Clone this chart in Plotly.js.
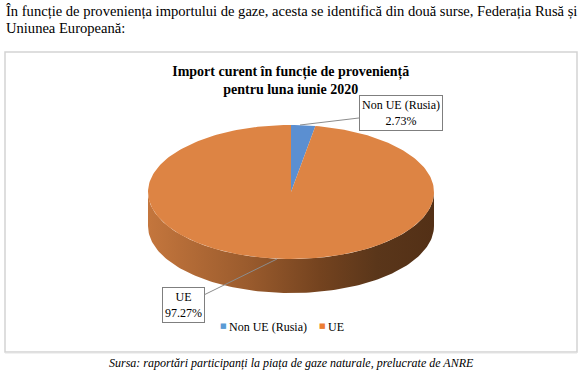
<!DOCTYPE html>
<html>
<head>
<meta charset="utf-8">
<script src="https://cdn.plot.ly/plotly-3.0.1.min.js"></script>
<style>html,body{margin:0;padding:0;background:#fff;}#chart{width:585px;height:373px;}</style>
</head>
<body>
<div id="chart"></div>
<script>
// ---- data ----
const categories = ['Non UE (Rusia)', 'UE'];
const values = [2.73, 97.27];
const chartTitleLines = ['Import curent în funcție de proveniență', 'pentru luna iunie 2020'];
const introLines = ['În funcție de proveniența importului de gaze, acesta se identifică din două surse, Federația Rusă și', 'Uniunea Europeană:'];
const sourceText = 'Sursa: raportări participanți la piața de gaze naturale, prelucrate de ANRE';

// ---- style ----
const topColors = ['#5B8FD1', '#DD8444'];
const legendColors = ['#5B9BD5', '#ED7D31'];
const serif = 'Liberation Serif';
const cx = 291, cy = 192, ra = 143, rb = 67, depth = 34;

function pt(deg, dy) {
  const t = deg * Math.PI / 180;
  return [cx + ra * Math.sin(t), cy - rb * Math.cos(t) + (dy || 0)];
}

const total = values.reduce((s, v) => s + v, 0);
const traces = [];
const slices = [];
let acc = 0;
values.forEach((v, i) => {
  const a0 = acc / total * 360, a1 = (acc + v) / total * 360;
  acc += v;
  slices.push([a0, a1]);
});

// side (front visible part)
slices.forEach((s, i) => {
  const lo = Math.max(s[0], 90), hi = Math.min(s[1], 270);
  if (hi <= lo) return;
  const xs = [], ys = [];
  const n = 120;
  for (let k = 0; k <= n; k++) { const p = pt(lo + (hi - lo) * k / n); xs.push(p[0]); ys.push(p[1]); }
  for (let k = n; k >= 0; k--) { const p = pt(lo + (hi - lo) * k / n, depth); xs.push(p[0]); ys.push(p[1]); }
  traces.push({
    type: 'scatter', mode: 'lines', x: xs, y: ys, fill: 'toself',
    line: {width: 0, color: 'rgba(0,0,0,0)'},
    fillcolor: '#7a4624',
    fillgradient: {type: 'horizontal', start: cx - ra, stop: cx + ra,
      colorscale: [[0, '#c4763d'], [0.35, '#9a5b2d'], [0.6, '#74431f'], [0.8, '#5a361a'], [1, '#533016']]},
    hoverinfo: 'skip', showlegend: false
  });
});

// top faces
slices.forEach((s, i) => {
  const xs = [cx], ys = [cy];
  const n = Math.max(4, Math.ceil((s[1] - s[0]) / 1.5));
  for (let k = 0; k <= n; k++) { const p = pt(s[0] + (s[1] - s[0]) * k / n); xs.push(p[0]); ys.push(p[1]); }
  xs.push(cx); ys.push(cy);
  traces.push({
    type: 'scatter', mode: 'lines', x: xs, y: ys, fill: 'toself',
    line: {width: 0, color: 'rgba(0,0,0,0)'}, fillcolor: topColors[i],
    hoverinfo: 'skip', showlegend: false, name: categories[i]
  });
});

// labels
const labelPos = [[401, 113, 300, 125], [183.5, 305, 277, 259]];
const annotations = slices.map((s, i) => ({
  xref: 'x', yref: 'y', x: labelPos[i][2], y: labelPos[i][3],
  axref: 'x', ayref: 'y', ax: labelPos[i][0], ay: labelPos[i][1],
  text: categories[i] + '<br>' + values[i].toFixed(2) + '%',
  showarrow: true, arrowhead: 0, arrowwidth: 1, arrowcolor: '#8c8c8c',
  bgcolor: '#ffffff', bordercolor: '#7f7f7f', borderwidth: 1, borderpad: 2,
  font: {family: serif, size: 12, color: '#000'}, align: 'center'
}));

// legend (built from categories)
const legendX = [223, 322];
categories.forEach((c, i) => {
  annotations.push({xref: 'x', yref: 'y', x: legendX[i], y: 326, xanchor: 'center', yanchor: 'middle', showarrow: false,
    text: '■', font: {family: 'DejaVu Sans', size: 7, color: legendColors[i]}});
  annotations.push({xref: 'x', yref: 'y', x: legendX[i] + 4, y: 327, xanchor: 'left', yanchor: 'middle', showarrow: false,
    text: c, font: {family: serif, size: 12, color: '#000'}});
});

// intro text size to fit line width
let introSize = 14;
try {
  const cv = document.createElement('canvas').getContext('2d');
  cv.font = '14px "Liberation Serif"';
  const w = cv.measureText(introLines[0]).width;
  introSize = Math.max(12.5, Math.min(15.5, 14 * 572 / w));
} catch (e) {}

annotations.push({xref: 'x', yref: 'y', x: 4, y: 11, xanchor: 'left', yanchor: 'middle', showarrow: false,
  text: introLines[0], font: {family: serif, size: introSize, color: '#000'}});
annotations.push({xref: 'x', yref: 'y', x: 4, y: 28, xanchor: 'left', yanchor: 'middle', showarrow: false,
  text: introLines[1], font: {family: serif, size: introSize, color: '#000'}});
annotations.push({xref: 'x', yref: 'y', x: 291, y: 363, xanchor: 'center', yanchor: 'middle', showarrow: false,
  text: '<i>' + sourceText + '</i>', font: {family: serif, size: 12, color: '#000'}});

const layout = {
  width: 585, height: 373,
  margin: {l: 0, r: 0, t: 0, b: 0},
  paper_bgcolor: '#fff', plot_bgcolor: '#fff',
  xaxis: {range: [0, 585], visible: false, fixedrange: true},
  yaxis: {range: [373, 0], visible: false, fixedrange: true},
  title: {text: '<b>' + chartTitleLines.join('<br>') + '</b>', x: 0.497, xanchor: 'center',
    y: 1 - 76 / 373, yanchor: 'middle', font: {family: serif, size: 14, color: '#000'}},
  showlegend: false,
  shapes: [
    {type: 'rect', xref: 'x', yref: 'y', x0: 5, y0: 52, x1: 577, y1: 352,
      line: {color: '#D3D3D3', width: 1.5}, layer: 'below'},
    {type: 'line', xref: 'x', yref: 'y', x0: 5, y0: 353, x1: 577, y1: 353,
      line: {color: '#E3E3E3', width: 1}, layer: 'below'}
  ],
  annotations: annotations
};

Plotly.newPlot('chart', traces, layout, {displayModeBar: false, staticPlot: true});
</script>
</body>
</html>
